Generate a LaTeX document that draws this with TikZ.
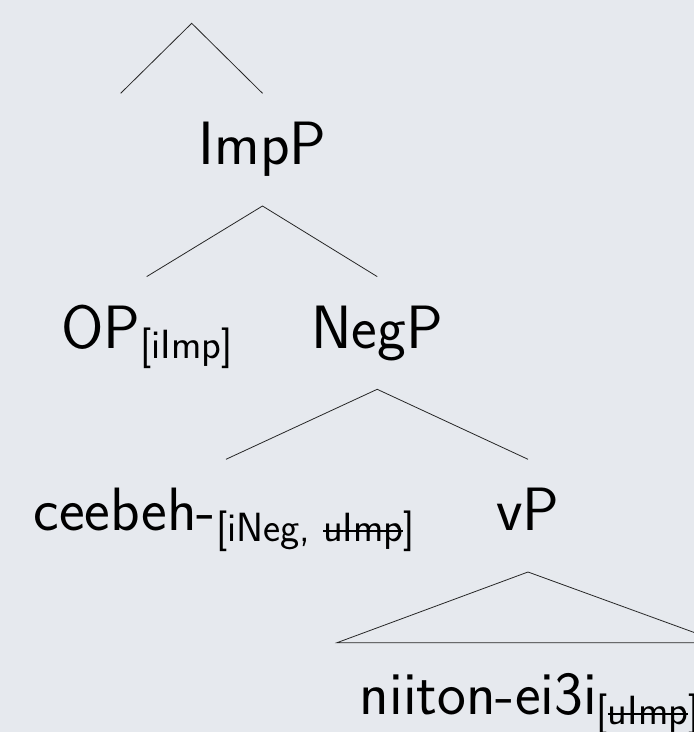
\documentclass[tikz,border=0pt]{standalone}
\usetikzlibrary{calc}
\definecolor{bgcol}{RGB}{230,233,238}
\newsavebox\strikebox
\newcommand\strikeit[1]{\sbox\strikebox{#1}\rlap{\rule[0.55ex]{\wd\strikebox}{0.045em}}\usebox\strikebox}
\newcommand\featsub[1]{\raisebox{-10.5pt}{\fontsize{40.8}{48}\selectfont #1}}
\tikzset{
  lbl/.style={anchor=base, inner sep=0pt, outer sep=0pt,
    font=\sffamily\fontsize{61.2}{72}\selectfont},
  branch/.style={draw=black!85, line width=0.8pt}
}
\begin{document}
\begin{tikzpicture}[x=1pt,y=1pt]
\fill[bgcol] (0,0) rectangle (694,732);
\useasboundingbox (0,0) rectangle (694,732);
% nodes
\node[lbl] (imp) at (262.5,567) {ImpP};
\node[lbl] (op) at (146.7,383.7) {OP\featsub{[iImp]}};
\node[lbl] (neg) at (377.2,383.7) {NegP};
\node[lbl] (cee) at (224.2,201) {ceebeh-\featsub{[iNeg, \strikeit{uImp}]}};
\node[lbl] (vp) at (528,201) {vP};
\node[lbl] (nii) at (529.6,17.5) {niiton-ei3i\featsub{[\strikeit{uImp}]}};
% top (unlabelled) branch
\coordinate (root) at (191.7,708.7);
\coordinate (rootleft) at (120.7,638.7);
\draw[branch] (rootleft) -- (root) -- ([yshift=71.7pt]imp.base);
% ImpP
\draw[branch] ([yshift=71.7pt]op.base) -- ([yshift=-41pt]imp.base) -- ([yshift=71.7pt]neg.base);
% NegP
\draw[branch] ([yshift=71.7pt,xshift=1.8pt]cee.base) -- ([yshift=-41pt]neg.base) -- ([yshift=71.7pt]vp.base);
% vP triangle
\draw[branch] ([yshift=-41pt]vp.base) -- ([yshift=71.8pt,xshift=-192.6pt]nii.base) -- ([yshift=71.8pt,xshift=192.6pt]nii.base) -- cycle;
\end{tikzpicture}
\end{document}
